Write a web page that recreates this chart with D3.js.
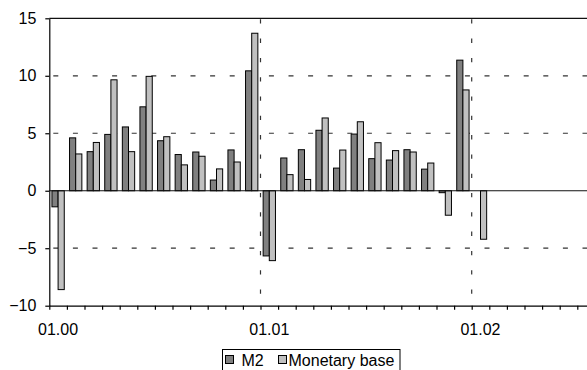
<!DOCTYPE html>
<html>
<head>
<meta charset="utf-8">
<script src="https://cdn.jsdelivr.net/npm/d3@7"></script>
<style>
  html, body { margin: 0; padding: 0; background: #fff; }
  svg { display: block; font-family: "Liberation Sans", Arial, sans-serif; }
</style>
</head>
<body>
<svg id="chart" width="587" height="370"></svg>
<script>
// Monthly growth, % (Jan 2000 .. Jan 2002)
const months = ["01.00","02.00","03.00","04.00","05.00","06.00","07.00","08.00","09.00","10.00","11.00","12.00",
                "01.01","02.01","03.01","04.01","05.01","06.01","07.01","08.01","09.01","10.01","11.01","12.01",
                "01.02","02.02","03.02","04.02","05.02","06.02","07.02","08.02","09.02","10.02","11.02","12.02"];
const m2 = [-1.4, 4.6, 3.4, 4.9, 5.55, 7.3, 4.35, 3.15, 3.37, 0.93, 3.55, 10.43,
            -5.67, 2.85, 3.57, 5.26, 1.97, 4.93, 2.79, 2.67, 3.57, 1.88, -0.17, 11.36,
            null];
const monetaryBase = [-8.6, 3.2, 4.2, 9.65, 3.4, 9.95, 4.7, 2.25, 3.0, 1.9, 2.5, 13.7,
            -6.08, 1.4, 0.98, 6.33, 3.54, 6.0, 4.18, 3.49, 3.37, 2.41, -2.13, 8.77,
            -4.22];
const seriesNames = ["M2", "Monetary base"];
const yTicks = [-10, -5, 0, 5, 10, 15];
const yearStarts = ["01.00", "01.01", "01.02"];

const colors = { "M2": "#808080", "Monetary base": "#c0c0c0" };

const svg = d3.select("#chart");
const plotLeft = 49.3, plotTop = 18.3, plotBottom = 305.7, step = 17.6;
const plotRight = plotLeft + months.length * step;

const x = d3.scaleBand().domain(months).range([plotLeft, plotRight]).paddingInner(0.3).paddingOuter(0.15);
const xs = d3.scaleBand().domain(seriesNames).range([0, x.bandwidth()]);
const edge = d3.scaleLinear().domain([0, months.length]).range([plotLeft, plotRight]);
const y = d3.scaleLinear().domain([-10, 15]).range([plotBottom, plotTop]);

// dashed gridlines
svg.append("g").selectAll("line").data([10, 5, -5]).join("line")
  .attr("x1", plotLeft).attr("x2", plotRight)
  .attr("y1", d => y(d)).attr("y2", d => y(d))
  .attr("stroke", "#333").attr("stroke-width", 1.2)
  .attr("stroke-dasharray", "5,14.6").attr("stroke-dashoffset", -4);

// year separators
svg.append("g").selectAll("line").data(yearStarts.slice(1)).join("line")
  .attr("x1", d => edge(months.indexOf(d))).attr("x2", d => edge(months.indexOf(d)))
  .attr("y1", plotTop).attr("y2", plotBottom)
  .attr("stroke", "#333").attr("stroke-width", 1.2)
  .attr("stroke-dasharray", "4.3,15").attr("stroke-dashoffset", -1);

// top border at 15
svg.append("line").attr("x1", plotLeft).attr("x2", plotRight)
  .attr("y1", y(15)).attr("y2", y(15)).attr("stroke", "#111").attr("stroke-width", 1.2);

// bars
const rows = [];
months.forEach((m, i) => {
  if (m2[i] != null) rows.push({ month: m, series: "M2", value: m2[i] });
  if (monetaryBase[i] != null) rows.push({ month: m, series: "Monetary base", value: monetaryBase[i] });
});
svg.append("g").selectAll("rect").data(rows).join("rect")
  .attr("x", d => x(d.month) + xs(d.series))
  .attr("width", xs.bandwidth())
  .attr("y", d => y(Math.max(0, d.value)))
  .attr("height", d => Math.abs(y(d.value) - y(0)))
  .attr("fill", d => colors[d.series])
  .attr("stroke", "#000").attr("stroke-width", 1);

// zero line
svg.append("line").attr("x1", plotLeft).attr("x2", plotRight)
  .attr("y1", y(0)).attr("y2", y(0)).attr("stroke", "#111").attr("stroke-width", 1.2);

// y axis
const yAxis = svg.append("g").attr("transform", `translate(${plotLeft},0)`)
  .call(d3.axisLeft(y).tickValues(yTicks).tickSize(4).tickPadding(9).tickSizeOuter(0));
yAxis.select(".domain").attr("stroke", "#000").attr("stroke-width", 1.2);
yAxis.selectAll(".tick line").attr("stroke", "#000").attr("stroke-width", 1.2);
yAxis.selectAll(".tick text").attr("font-size", 16).attr("fill", "#000")
  .attr("font-family", "'Liberation Sans', Arial, sans-serif");

// x axis with month ticks
const xAxis = svg.append("g").attr("transform", `translate(0,${plotBottom})`)
  .call(d3.axisBottom(edge).tickValues(d3.range(0, months.length + 1)).tickSize(4).tickFormat("").tickSizeOuter(0));
xAxis.select(".domain").attr("stroke", "#000").attr("stroke-width", 1.2);
xAxis.selectAll(".tick line").attr("stroke", "#000").attr("stroke-width", 1.2);

svg.append("g").selectAll("text").data(yearStarts).join("text")
  .attr("x", d => x(d) + x.bandwidth() / 2)
  .attr("y", 335)
  .attr("text-anchor", "middle")
  .attr("font-size", 16)
  .text(d => d);

// legend
const lg = svg.append("g");
lg.append("rect").attr("x", 222.5).attr("y", 349.5).attr("width", 177.5).attr("height", 26)
  .attr("fill", "#fff").attr("stroke", "#000").attr("stroke-width", 1);
const legendItems = [
  { name: "M2", sx: 225.5, tx: 241.5 },
  { name: "Monetary base", sx: 278.5, tx: 288.5 }
];
legendItems.forEach(it => {
  lg.append("rect").attr("x", it.sx).attr("y", 355.5).attr("width", 8).attr("height", 8)
    .attr("fill", colors[it.name]).attr("stroke", "#000").attr("stroke-width", 1);
  lg.append("text").attr("x", it.tx).attr("y", 365.5).attr("font-size", 16).text(it.name);
});
</script>
</body>
</html>
